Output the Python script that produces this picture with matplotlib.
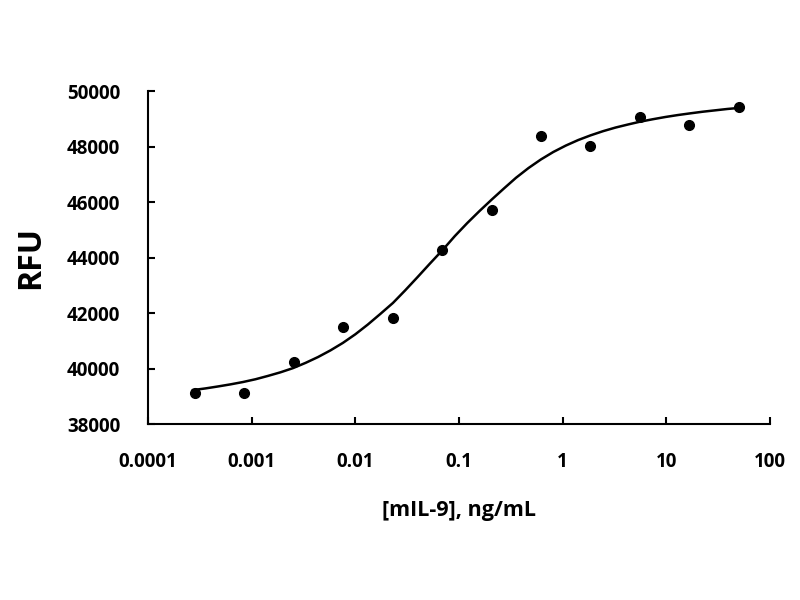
import matplotlib
matplotlib.use("Agg")
import matplotlib.pyplot as plt
from matplotlib.ticker import FixedLocator, FixedFormatter, NullLocator

# measured points
conc = [0.000282, 0.000847, 0.00254, 0.00762, 0.0229, 0.0686,
        0.206, 0.617, 1.85, 5.56, 16.7, 50.0]
rfu = [39120, 39120, 40240, 41500, 41830, 44290,
       45730, 48370, 48010, 49060, 48800, 49420]

# fitted curve (log10 of concentration)
fit_logx = [-3.566, -3.445, -3.325, -3.205, -3.084, -2.963, -2.843,
            -2.722, -2.602, -2.48, -2.36, -2.24, -2.12, -2.0, -1.88,
            -1.76, -1.637, -1.52, -1.4, -1.28, -1.155, -1.04, -0.92,
            -0.8, -0.683, -0.565, -0.45, -0.33, -0.21, -0.09, 0.03,
            0.15, 0.27, 0.39, 0.51, 0.63, 0.745, 0.87, 0.99, 1.11,
            1.227, 1.35, 1.47, 1.59, 1.71]
fit_rfu = [39230, 39290, 39360, 39435, 39520, 39620, 39740,
           39870, 40020, 40210, 40420, 40660, 40930, 41240, 41590,
           41970, 42370, 42820, 43300, 43790, 44290, 44780, 45250,
           45690, 46100, 46500, 46880, 47230, 47540, 47810, 48040,
           48240, 48410, 48560, 48690, 48800, 48900, 48990, 49070,
           49140, 49200, 49260, 49310, 49360, 49400]

xticks = [0.0001, 0.001, 0.01, 0.1, 1, 10, 100]
xtick_labels = ["0.0001", "0.001", "0.01", "0.1", "1", "10", "100"]
yticks = [38000, 40000, 42000, 44000, 46000, 48000, 50000]

plt.rcParams['font.family'] = ['Open Sans', 'DejaVu Sans']

fig = plt.figure(figsize=(8, 6), dpi=100)
ax = fig.add_axes([0.185, 0.293, 0.7775, 0.555])

ax.plot([10 ** v for v in fit_logx], fit_rfu, color='black', lw=1.8)
ax.plot(conc, rfu, 'o', color='black', markersize=7)

ax.set_xscale('log')
ax.set_xlim(0.0001, 100)
ax.set_ylim(38000, 50000)
ax.xaxis.set_major_locator(FixedLocator(xticks))
ax.xaxis.set_major_formatter(FixedFormatter(xtick_labels))
ax.xaxis.set_minor_locator(NullLocator())
ax.set_yticks(yticks)
ax.set_yticklabels([str(v) for v in yticks])

for s in ['top', 'right']:
    ax.spines[s].set_visible(False)
for s in ['left', 'bottom']:
    ax.spines[s].set_linewidth(1.5)

ax.tick_params(direction='in', length=5, width=1.5, labelsize=13.5)
ax.tick_params(axis='y', pad=20)
ax.tick_params(axis='x', pad=20)
for lbl in ax.get_xticklabels() + ax.get_yticklabels():
    lbl.set_fontweight('bold')

ax.set_ylabel('RFU', fontsize=23, fontweight='bold', labelpad=14)
ax.set_xlabel('[mIL-9], ng/mL', fontsize=15.5, fontweight='bold', labelpad=20)

fig.savefig('out.png', dpi=100)
